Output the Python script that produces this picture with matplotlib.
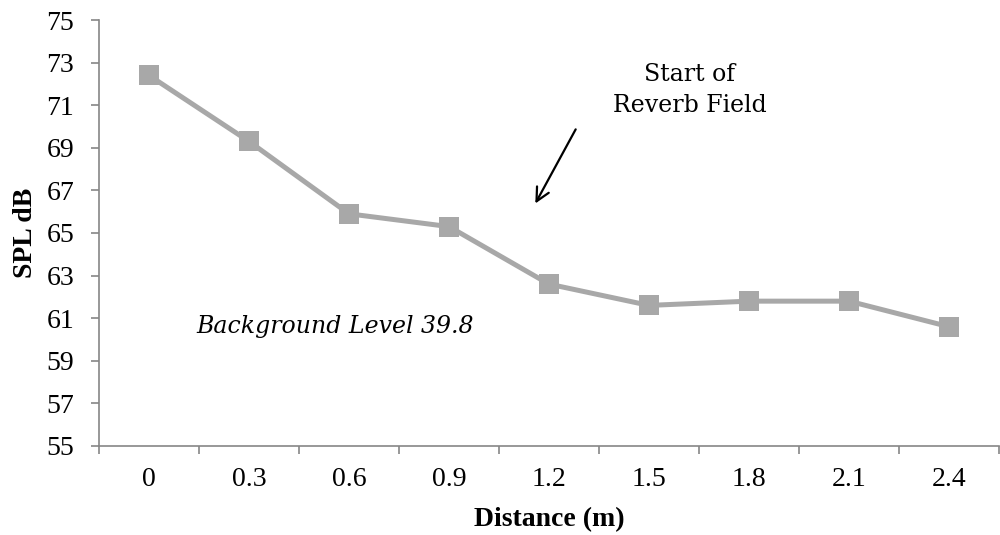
import matplotlib
matplotlib.use("Agg")
import matplotlib.pyplot as plt
import numpy as np

distances = ["0", "0.3", "0.6", "0.9", "1.2", "1.5", "1.8", "2.1", "2.4"]
spl_db = [72.4, 69.3, 65.9, 65.3, 62.6, 61.6, 61.8, 61.8, 60.6]
y_ticks = [55, 57, 59, 61, 63, 65, 67, 69, 71, 73, 75]

plt.rcParams["font.family"] = ["Liberation Serif"]

fig = plt.figure(figsize=(10, 5.35), dpi=100)
ax = fig.add_axes([0.099, 0.1664, 0.9, 0.7962])

x = np.arange(len(distances))
ax.plot(x, spl_db, color="#A8A8A8", linewidth=3.6, marker="s",
        markersize=14, markeredgewidth=0, markerfacecolor="#A8A8A8")

ax.set_xlim(-0.5, len(distances) - 0.5)
ax.set_ylim(55, 75)
ax.set_yticks(y_ticks)
ax.set_yticklabels([str(v) for v in y_ticks])

# category labels centered, tick marks between categories
ax.set_xticks(x)
ax.set_xticklabels(distances)
ax.set_xticks(np.arange(-0.5, len(distances)), minor=True)
ax.tick_params(axis="x", which="major", length=0, pad=15, labelsize=20)
ax.tick_params(axis="x", which="minor", length=6, width=1.2, color="#868686", direction="out")
ax.tick_params(axis="y", length=6, width=1.2, color="#868686", labelsize=20, pad=12)

for side in ("top", "right"):
    ax.spines[side].set_visible(False)
for side in ("left", "bottom"):
    ax.spines[side].set_color("#868686")
    ax.spines[side].set_linewidth(1.2)

ax.set_xlabel("Distance (m)", fontsize=20, fontweight="bold", labelpad=11)
ax.set_ylabel("SPL dB", fontsize=20, fontweight="bold", labelpad=6)

ax.text(1.86, 60.6, "Background Level 39.8", fontsize=17, style="italic",
        family="DejaVu Serif", ha="center", va="center")
ax.text(5.41, 71.7, "Start of\nReverb Field", fontsize=17,
        family="DejaVu Serif", ha="center", va="center", linespacing=1.45)
ax.annotate("", xy=(3.85, 66.27), xytext=(4.28, 69.98),
            arrowprops=dict(arrowstyle="->", color="black", lw=1.6,
                            mutation_scale=24))

fig.savefig("out.png", dpi=100)
